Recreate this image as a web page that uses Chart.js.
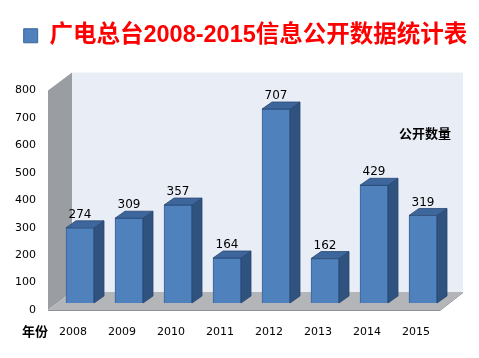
<!DOCTYPE html>
<html><head><meta charset="utf-8">
<script src="https://cdn.jsdelivr.net/npm/chart.js@4"></script>
<style>html,body{margin:0;padding:0;background:#fff}#w{width:479px;height:358px}</style>
</head><body><div id="w"><canvas id="c"></canvas></div>
<script>
const categories = ['2008','2009','2010','2011','2012','2013','2014','2015'];
const values = [274, 309, 357, 164, 707, 162, 429, 319];
const yMin = 0, yMax = 800, yStep = 100;
const seriesName = '广电总台2008-2015信息公开数据统计表';
const xAxisTitle = '年份';
const yAxisTitle = '公开数量';

const threeD = {
  id: 'threeD',
  beforeDatasetsDraw(chart) {
    const {ctx, chartArea: a, scales: {y}} = chart;
    const y0 = y.getPixelForValue(yMin), yT = y.getPixelForValue(yMax);
    const fl = a.left - 7.5, bl = a.left + 16.5, fr = a.right - 7.5, br = a.right + 15.5;
    const ffy = y0 + 7, bfy = y0 - 11, fty = yT + 7, bty = yT - 11;
    ctx.save();
    ctx.fillStyle = '#e9edf6';
    ctx.fillRect(bl, bty, br - bl, bfy - bty);
    ctx.fillStyle = '#9a9da2';
    ctx.beginPath(); ctx.moveTo(fl, fty); ctx.lineTo(bl, bty); ctx.lineTo(bl, bfy); ctx.lineTo(fl, ffy); ctx.closePath(); ctx.fill();
    ctx.fillStyle = '#b3b5b9';
    ctx.beginPath(); ctx.moveTo(fl, ffy); ctx.lineTo(bl, bfy); ctx.lineTo(br, bfy); ctx.lineTo(fr, ffy); ctx.closePath(); ctx.fill();
    ctx.strokeStyle = '#8f9196'; ctx.lineWidth = 1;
    ctx.beginPath(); ctx.moveTo(fl, ffy + 0.5); ctx.lineTo(fr, ffy + 0.5); ctx.lineTo(br, bfy + 0.5); ctx.stroke();
    ctx.restore();
  },
  afterDatasetsDraw(chart) {
    const {ctx} = chart;
    const meta = chart.getDatasetMeta(0);
    ctx.save();
    meta.data.forEach((el, i) => {
      const {x, y, width, base} = el.getProps(['x','y','width','base'], true);
      const l = x - width / 2, r = x + width / 2, dx = 10, dy = 7;
      ctx.fillStyle = '#30527f';
      ctx.strokeStyle = '#2a4872'; ctx.lineWidth = 0.8;
      ctx.beginPath(); ctx.moveTo(r, y); ctx.lineTo(r + dx, y - dy); ctx.lineTo(r + dx, base - dy); ctx.lineTo(r, base); ctx.closePath(); ctx.fill(); ctx.stroke();
      ctx.fillStyle = '#3d679c';
      ctx.beginPath(); ctx.moveTo(l, y); ctx.lineTo(l + dx, y - dy); ctx.lineTo(r + dx, y - dy); ctx.lineTo(r, y); ctx.closePath(); ctx.fill(); ctx.stroke();
      ctx.fillStyle = '#000';
      ctx.font = '12px "DejaVu Sans"';
      ctx.textAlign = 'center'; ctx.textBaseline = 'middle';
      ctx.fillText(String(values[i]), x, y - 13);
    });
    ctx.font = 'bold 13px "Noto Sans CJK SC"';
    ctx.fillStyle = '#000'; ctx.textAlign = 'center'; ctx.textBaseline = 'middle';
    ctx.fillText(xAxisTitle, 35, 331);
    ctx.fillText(yAxisTitle, 425, 133);
    ctx.restore();
  }
};

new Chart(document.getElementById('c'), {
  type: 'bar',
  data: {
    labels: categories,
    datasets: [{
      label: seriesName,
      data: values,
      backgroundColor: '#4f81bd',
      borderColor: '#3a6598',
      borderWidth: 1,
      barThickness: 28
    }]
  },
  options: {
    responsive: true,
    maintainAspectRatio: false,
    animation: false,
    layout: { padding: { left: 12, right: 0, top: 14, bottom: 0 } },
    plugins: {
      legend: {
        display: true,
        position: 'top',
        labels: {
          color: '#ff0000',
          boxWidth: 14,
          boxHeight: 14,
          padding: 10,
          font: { size: 23.5, weight: 'bold', family: '"Liberation Sans", "Noto Sans CJK SC"' }
        }
      },
      tooltip: { enabled: false }
    },
    scales: {
      x: {
        grid: { display: false, drawTicks: false },
        border: { display: false },
        ticks: { color: '#000', labelOffset: -7, padding: 23, font: { size: 11, family: '"DejaVu Sans"' } },
        afterFit(s) { s.height = 55; }
      },
      xTop: {
        type: 'category',
        position: 'top',
        grid: { display: false, drawTicks: false },
        border: { display: false },
        ticks: { display: false },
        afterFit(s) { s.height = 26; }
      },
      y: {
        min: yMin, max: yMax,
        grid: { display: false, drawTicks: false },
        border: { display: false },
        ticks: { stepSize: yStep, color: '#000', labelOffset: 7, padding: 19.5, font: { size: 11, family: '"DejaVu Sans"' } },
        afterFit(s) { s.width = 43.5; }
      },
      yRight: {
        type: 'linear',
        position: 'right',
        grid: { display: false, drawTicks: false },
        border: { display: false },
        ticks: { display: false },
        afterFit(s) { s.width = 31.5; }
      }
    }
  },
  plugins: [threeD]
});
</script>
</body></html>
